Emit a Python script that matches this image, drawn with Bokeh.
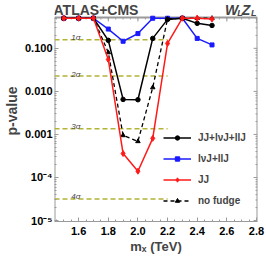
import math
from bokeh.plotting import figure
from bokeh.models import (Label, Legend, LegendItem, FixedTicker, CustomJSTickFormatter)
from bokeh.core.properties import value
from bokeh.embed import file_html
from bokeh.resources import INLINE

# ---------------- data ----------------
mx = [1.5, 1.6, 1.7, 1.8, 1.9, 2.0, 2.1, 2.2, 2.3, 2.4, 2.5]
p_all = [0.5, 0.5, 0.5, 0.153, 0.0065, 0.0064, 0.17, 0.47, 0.5, 0.38, 0.34]
p_lep = [0.5, 0.5, 0.5, 0.28, 0.146, 0.22, 0.5, 0.5, 0.5, 0.17, 0.12]
p_jj = [0.5, 0.5, 0.5, 0.055, 3.6e-4, 1.4e-4, 8.1e-4, 0.13, 0.5, 0.5, 0.48]
p_nofudge = [0.5, 0.5, 0.5, 0.08, 9.5e-4, 6.9e-4, 0.0123, 0.48, 0.5, 0.5, 0.5]

sigma_p = [0.1587, 0.02275, 0.00135, 3.17e-5]
sigma_labels = ["1σ", "2σ", "3σ", "4σ"]
sigma_x = [1.437, 2.2]

x_ticks = [1.6, 1.8, 2.0, 2.2, 2.4, 2.6, 2.8]
y_ticks = [1e-5, 1e-4, 1e-3, 1e-2, 1e-1]
y_tick_labels = ["10⁻⁵", "10⁻⁴", "0.001", "0.010", "0.100"]
legend_labels = ["JJ+lνJ+llJ", "lνJ+llJ", "JJ", "no fudge"]

# ---------------- layout (page pixels) ----------------
W, H = 266, 256
BL, BR, BT, BB = 51, 257, 17, 221          # visible plot box
FW, FH = BR - BL, BB - BT
X0, X1 = 1.437, 2.807
Y0, Y1 = 9.5e-6, 0.52                       # box bottom / top
LY0, LY1 = math.log10(Y0), math.log10(Y1)
LPP = (LY1 - LY0) / FH                      # decades per pixel

def xd(px):   # page x -> data x
    return X0 + (X1 - X0) * (px - BL) / FW

def yd(py):   # page y -> data y
    return 10 ** (LY1 - LPP * (py - BT))

YTOP = yd(0)   # the frame reaches the canvas top so the heading texts stay inside it

FONT = "Liberation Sans"
FRAME = "#9a9a9a"

p = figure(width=W, height=H, y_axis_type="log", x_range=(X0, X1), y_range=(Y0, YTOP),
           output_backend="svg", toolbar_location=None,
           min_border_left=BL, min_border_right=W - BR, min_border_top=0,
           min_border_bottom=H - BB)
p.xgrid.visible = False
p.ygrid.visible = False
p.outline_line_color = None
p.background_fill_color = "white"
p.border_fill_color = "white"

x_minor = [round(1.45 + 0.05 * i, 2) for i in range(28)]
y_minor = [k * 10 ** e for e in range(-6, 0) for k in range(2, 10)
           if Y0 <= k * 10 ** e <= Y1]

def style_axis(ax):
    ax.axis_line_color = FRAME
    ax.major_tick_line_color = FRAME
    ax.minor_tick_line_color = FRAME
    ax.major_tick_in = 4
    ax.major_tick_out = 0
    ax.minor_tick_in = 2
    ax.minor_tick_out = 0
    ax.major_label_text_font = FONT
    ax.major_label_text_font_style = "bold"
    ax.major_label_text_font_size = "11px"
    ax.major_label_text_color = "black"
    ax.major_label_standoff = 2

p.xaxis.ticker = FixedTicker(ticks=x_ticks, minor_ticks=x_minor)
p.xaxis.formatter = CustomJSTickFormatter(code="return tick.toFixed(1);")
p.yaxis.ticker = FixedTicker(ticks=y_ticks, minor_ticks=y_minor)
p.yaxis.formatter = CustomJSTickFormatter(args=dict(tv=y_ticks, tl=y_tick_labels), code="""
for (let i = 0; i < tv.length; i++) {
  if (Math.abs(Math.log10(tick) - Math.log10(tv[i])) < 1e-6) return tl[i];
}
return '';
""")
style_axis(p.xaxis[0])
style_axis(p.yaxis[0])
p.yaxis.axis_line_color = None
p.xaxis.major_label_standoff = 5

p.yaxis.axis_label = "p-value"
p.yaxis.axis_label_text_font = FONT
p.yaxis.axis_label_text_font_style = "bold"
p.yaxis.axis_label_text_font_size = "14px"
p.yaxis.axis_label_standoff = 2

# x axis title below the tick labels
p.add_layout(Label(x=xd(154), y=yd(246), text="mₓ (TeV)", text_font=FONT,
                   text_font_style="bold", text_font_size="13px", text_align="center",
                   text_baseline="alphabetic"), "below")

# plot box: left, top and right edges, plus mirrored ticks on top and right
p.segment(x0=[X0, X0, X1], x1=[X0, X1, X1], y0=[Y0, Y1, Y0], y1=[Y1, Y1, Y1],
          line_color=FRAME, line_width=2)
nx, nxm = len(x_ticks), len(x_minor)
p.segment(x0=x_ticks, x1=x_ticks, y0=[yd(BT + 4)] * nx, y1=[Y1] * nx, line_color=FRAME, line_width=1)
p.segment(x0=x_minor, x1=x_minor, y0=[yd(BT + 2)] * nxm, y1=[Y1] * nxm, line_color=FRAME, line_width=1)
ny, nym = len(y_ticks), len(y_minor)
p.segment(x0=[xd(BR - 4)] * ny, x1=[X1] * ny, y0=y_ticks, y1=y_ticks, line_color=FRAME, line_width=1)
p.segment(x0=[xd(BR - 2)] * nym, x1=[X1] * nym, y0=y_minor, y1=y_minor, line_color=FRAME, line_width=1)

# ---------------- sigma lines ----------------
SIG = "#b3b336"
for sp in sigma_p:
    p.line(sigma_x, [sp, sp], line_color=SIG, line_width=1.5, line_dash="5 3")
p.text(x=[xd(68)] * len(sigma_p), y=sigma_p, text=sigma_labels, text_font=value(FONT),
       text_font_style="italic", text_font_size="8px", text_color="#444444",
       text_baseline="alphabetic", y_offset=-2)

# ---------------- series ----------------
rl = p.line(mx, p_lep, line_color="#1a1aff", line_width=1.5)
rm = p.scatter(mx, p_lep, marker="square", size=4, color="#1a1aff")
bl = p.line(mx, p_all, line_color="black", line_width=1.5)
bm = p.scatter(mx, p_all, marker="circle", size=4.5, color="black")
nl = p.line(mx, p_nofudge, line_color="black", line_width=1.3, line_dash="4 3")
nm = p.scatter(mx, p_nofudge, marker="triangle", size=4.5, color="black")
jl = p.line(mx, p_jj, line_color="#ff1a1a", line_width=1.5)
jm = p.scatter(mx, p_jj, marker="diamond", size=6, color="#ff1a1a")

legend = Legend(items=[
    LegendItem(label=legend_labels[0], renderers=[bl, bm]),
    LegendItem(label=legend_labels[1], renderers=[rl, rm]),
    LegendItem(label=legend_labels[2], renderers=[jl, jm]),
    LegendItem(label=legend_labels[3], renderers=[nl, nm]),
], location=(109, 11))
legend.glyph_width = 28
legend.glyph_height = 11
legend.label_height = 20
legend.spacing = 1
legend.padding = 0
legend.margin = 0
legend.label_standoff = 7
legend.border_line_color = None
legend.background_fill_alpha = 0
legend.label_text_font = FONT
legend.label_text_font_style = "bold"
legend.label_text_font_size = "10px"
p.add_layout(legend)

# ---------------- heading texts (inside the upper strip of the frame) ----------------
def lab(px, py, text, size, style):
    p.add_layout(Label(x=xd(px), y=yd(py), text=text, text_font=FONT,
                       text_font_style=style, text_font_size=size,
                       text_baseline="alphabetic"))

lab(50, 9.5, "ATLAS+CMS", "14px", "bold")
lab(224, 9.5, "W", "14px", "bold italic")
lab(236.5, 12, "L", "9px", "bold italic")
lab(241, 9.5, "Z", "14px", "bold italic")
lab(250.5, 12, "L", "9px", "bold italic")

open("out.html", "w").write(file_html(p, INLINE))
